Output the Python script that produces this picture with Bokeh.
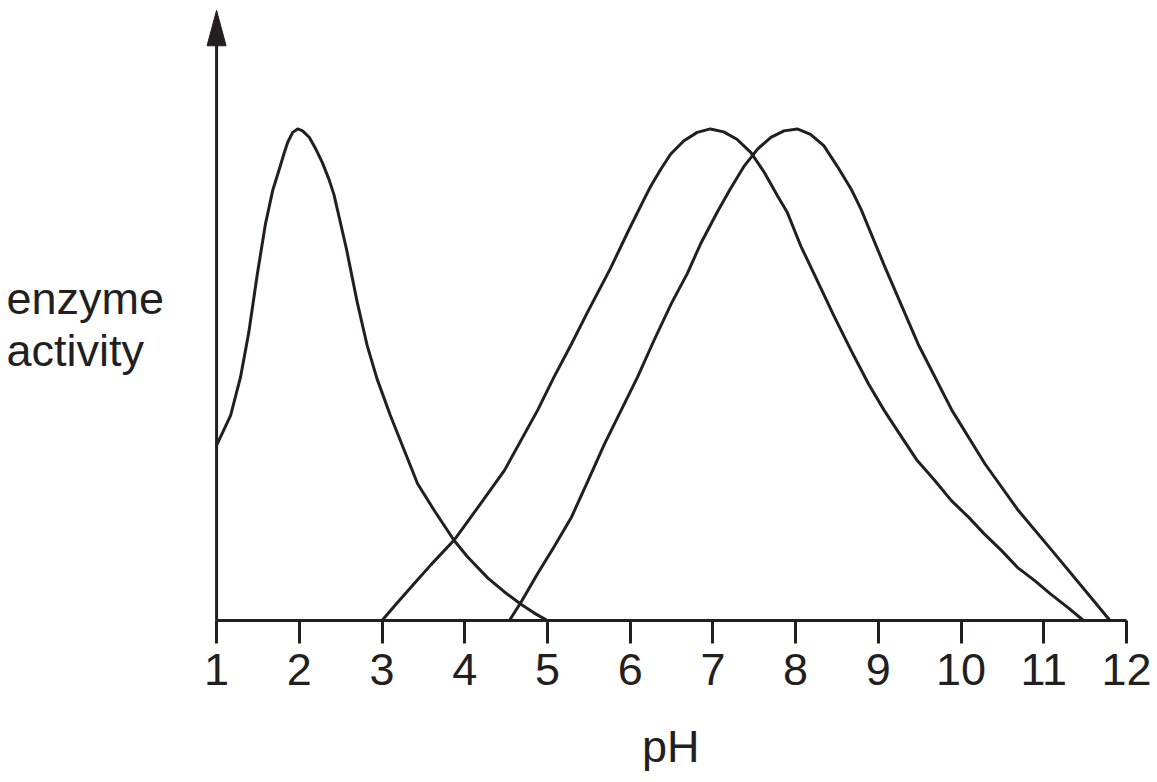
from bokeh.plotting import figure
from bokeh.models import Range1d, LinearAxis, FixedTicker
from bokeh.core.properties import value
from bokeh.embed import file_html
from bokeh.resources import INLINE

# ---- data ----
ticks_ph = [1, 2, 3, 4, 5, 6, 7, 8, 9, 10, 11, 12]

ph_a = [1.0, 1.17, 1.29, 1.39, 1.49, 1.59, 1.68, 1.76, 1.81, 1.86, 1.92, 1.98,
        2.04, 2.12, 2.20, 2.28, 2.36, 2.42, 2.57, 2.70, 2.82, 2.94, 3.10, 3.43,
        3.63, 3.87, 4.03, 4.28, 4.48, 4.68, 4.84, 5.0]
act_a = [35.6, 41.7, 49.5, 58.6, 70.1, 80.5, 87.5, 91.8, 94.6, 97.2, 99.2, 99.9,
         99.5, 98.2, 95.8, 93.0, 89.6, 86.5, 75.5, 64.7, 55.9, 49.1, 41.7, 27.8,
         22.4, 16.3, 13.0, 8.6, 5.8, 3.3, 1.5, 0]

ph_b = [3.0, 3.19, 3.39, 3.59, 3.87, 4.19, 4.48, 4.68, 4.88, 5.08, 5.29, 5.48,
        5.76, 5.97, 6.17, 6.25, 6.37, 6.49, 6.65, 6.81, 6.97, 7.13, 7.29, 7.46,
        7.62, 7.78, 7.90, 8.06, 8.26, 8.46, 8.67, 8.88, 9.07, 9.28, 9.47, 9.68,
        9.88, 10.09, 10.28, 10.49, 10.68, 10.89, 11.08, 11.30, 11.48]
act_b = [0, 3.7, 7.5, 11.3, 16.3, 23.7, 30.5, 36.6, 42.7, 49.5, 56.2, 62.5,
         71.5, 78.9, 85.7, 88.3, 91.7, 94.8, 97.5, 99.2, 99.9, 99.3, 97.8, 95.1,
         91.1, 86.3, 82.9, 76.2, 69.1, 62.0, 54.9, 48.1, 42.7, 37.3, 32.5, 28.5,
         24.4, 21.0, 17.6, 14.2, 10.8, 8.1, 5.4, 2.5, 0]

ph_c = [4.54, 4.68, 4.88, 5.08, 5.29, 5.48, 5.69, 5.89, 6.09, 6.29, 6.50, 6.69,
        6.85, 7.05, 7.21, 7.38, 7.54, 7.70, 7.86, 8.02, 8.18, 8.34, 8.50, 8.67,
        8.79, 9.08, 9.48, 9.89, 10.29, 10.69, 11.10, 11.50, 11.80]
act_c = [0, 3.7, 9.5, 15.0, 21.0, 28.0, 35.9, 42.7, 49.5, 57.0, 64.5, 70.5,
         76.5, 82.9, 87.7, 92.4, 95.8, 98.2, 99.5, 99.9, 98.8, 96.5, 92.4, 87.7,
         83.6, 71.8, 56.2, 42.7, 31.8, 22.4, 14.2, 6.1, 0]

x_label = "pH"
y_label_lines = ["enzyme", "activity"]

# ---- styling / layout ----
INK = "#231f20"
FONT = "Liberation Sans"
FS = "45px"
LW = 3

W, H = 1152, 782
X_START, X_END = -1.612, 12.314
Y_START, Y_END = -32.93, 126.0
AXIS_MIN, AXIS_MAX = 1, 12
ARROW_TIP = 124.0
ARROW_LEN = 7.2      # activity units (~35 px)
ARROW_HALF = 0.115   # pH units (~9.5 px)
LABEL_X = -1.54
LABEL_Y = [65.4, 54.8]
XLABEL_X = 6.49
XLABEL_Y = -25.6

p = figure(width=W, height=H, output_backend="svg", toolbar_location=None,
           x_axis_type=None, y_axis_type=None,
           x_range=Range1d(X_START, X_END), y_range=Range1d(Y_START, Y_END),
           min_border_left=0, min_border_right=0,
           min_border_top=0, min_border_bottom=0)
p.outline_line_color = None
p.xgrid.visible = False
p.ygrid.visible = False
p.background_fill_color = "white"
p.border_fill_color = "white"

xaxis = LinearAxis(ticker=FixedTicker(ticks=ticks_ph), bounds=(AXIS_MIN, AXIS_MAX),
                   fixed_location=0)
xaxis.axis_line_width = LW
xaxis.axis_line_color = INK
xaxis.major_tick_line_width = LW
xaxis.major_tick_line_color = INK
xaxis.major_tick_out = 23
xaxis.major_tick_in = 0
xaxis.minor_tick_line_color = None
xaxis.major_label_text_font = FONT
xaxis.major_label_text_font_size = FS
xaxis.major_label_text_color = INK
xaxis.major_label_standoff = 11
p.add_layout(xaxis, "below")

# vertical axis with arrow head
p.segment(x0=[AXIS_MIN], y0=[0], x1=[AXIS_MIN], y1=[ARROW_TIP - ARROW_LEN + 1],
          line_color=INK, line_width=LW)
p.patch(x=[AXIS_MIN - ARROW_HALF, AXIS_MIN, AXIS_MIN + ARROW_HALF],
        y=[ARROW_TIP - ARROW_LEN, ARROW_TIP, ARROW_TIP - ARROW_LEN],
        fill_color=INK, line_color=INK, line_width=1)

for xs, ys in ((ph_a, act_a), (ph_b, act_b), (ph_c, act_c)):
    p.line(xs, ys, line_color=INK, line_width=LW, line_join="round", line_cap="round")

# horizontal y label (two lines) and x label
p.text(x=[LABEL_X, LABEL_X], y=LABEL_Y, text=y_label_lines,
       text_font=value(FONT), text_font_size=FS, text_color=INK,
       text_align="left", text_baseline="alphabetic")
p.text(x=[XLABEL_X], y=[XLABEL_Y], text=[x_label],
       text_font=value(FONT), text_font_size=FS, text_color=INK,
       text_align="center", text_baseline="alphabetic")

open("out.html", "w").write(file_html(p, INLINE))
